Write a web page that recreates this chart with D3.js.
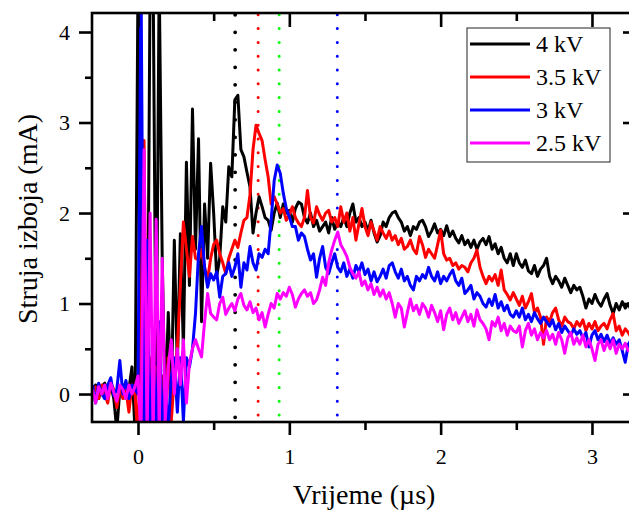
<!DOCTYPE html>
<html><head><meta charset="utf-8">
<script src="https://cdn.jsdelivr.net/npm/d3@7"></script>
<style>
body{margin:0;background:#fff}
svg{display:block}
text{font-family:"Liberation Serif","Times New Roman",serif;fill:#000}
</style>
</head><body>
<svg id="c" width="629" height="510"></svg>
<script>
// sampling grid of the traces (µs)
const tStart = -0.30, tStep = 0.02;

const seriesNames = ["4 kV", "3.5 kV", "3 kV", "2.5 kV"];
const seriesColors = ["#000000", "#ff0000", "#0000ff", "#ff00ff"];

// current (mA), one value per 0.02 µs starting at -0.30 µs
const current4kV = [
 0.0,0.1,-0.05,0.08,0.12,0.0,0.1,-0.05,-0.4,0.05,
 0.1,-0.05,0.05,0.3,-0.4,4.6,-0.5,0.8,-0.5,4.6,
 4.6,0.0,4.6,1.5,-0.2,0.9,-0.1,1.7,0.3,1.77,
 0.5,2.56,1.2,3.15,1.6,2.82,0.8,2.1,1.5,2.55,
 2.0,1.3,1.5,2.07,1.9,2.51,2.4,3.25,3.30,2.7,
 2.62,2.45,2.29,1.78,2.0,2.18,2.07,1.95,1.92,1.81,
 2.0,2.11,1.95,2.1,2.0,2.03,1.9,2.05,2.12,2.1,
 1.95,1.89,2.0,1.85,1.92,1.8,1.85,1.9,1.78,1.95,
 1.82,1.9,1.85,1.95,1.85,2.0,2.1,1.9,1.95,1.85,
 1.9,1.8,1.92,1.78,1.68,1.75,1.9,1.85,1.95,2.0,
 2.02,1.95,1.9,1.8,1.85,1.75,1.85,1.82,1.9,1.92,
 1.85,1.74,1.8,1.88,1.78,1.82,1.75,1.86,1.74,1.8,
 1.72,1.67,1.75,1.65,1.7,1.62,1.7,1.6,1.68,1.72,
 1.65,1.74,1.6,1.66,1.55,1.62,1.5,1.45,1.55,1.42,
 1.55,1.45,1.4,1.48,1.36,1.33,1.42,1.3,1.38,1.42,
 1.5,1.3,1.22,1.3,1.25,1.18,1.28,1.2,1.12,1.2,
 1.15,1.18,1.08,0.95,1.05,1.0,1.1,1.02,0.97,1.05,
 1.11,0.98,0.89,1.0,0.93,1.02,0.95,1.0,0.92,1.0
];
const current3_5kV = [
 0.0,0.08,-0.05,0.1,0.0,-0.1,0.12,0.05,-0.15,0.08,
 -0.05,0.05,-0.2,0.1,0.0,-0.5,1.0,2.8,-0.5,0.4,
 -0.4,0.3,-0.5,0.2,-0.2,0.4,-0.3,0.2,0.5,1.2,
 1.9,1.6,1.3,1.74,1.5,1.48,1.6,1.4,1.26,1.5,
 1.65,1.7,1.55,1.45,1.33,1.5,1.6,1.7,1.62,1.78,
 1.92,1.95,2.2,2.7,2.97,2.88,2.8,2.59,2.4,2.1,
 2.18,2.1,2.0,2.05,1.92,1.98,2.07,1.95,1.89,1.85,
 1.95,2.25,1.95,1.89,2.07,1.98,1.92,2.0,2.03,1.9,
 1.95,1.85,2.07,1.9,2.0,1.8,1.95,1.7,1.88,2.05,
 1.85,1.75,1.9,1.8,1.7,1.85,1.78,1.72,1.8,1.7,
 1.75,1.65,1.72,1.6,1.63,1.7,1.6,1.55,1.74,1.65,
 1.51,1.6,1.55,1.5,1.65,1.81,1.55,1.48,1.5,1.42,
 1.45,1.38,1.42,1.4,1.35,1.45,1.5,1.59,1.4,1.3,
 1.22,1.3,1.25,1.32,1.2,1.37,1.15,1.1,1.04,1.12,
 1.05,0.98,1.08,0.95,1.02,1.11,0.9,0.95,0.85,0.55,
 0.85,0.8,0.9,0.95,0.82,0.75,0.85,0.8,0.78,0.72,
 0.8,0.75,0.82,0.7,0.78,0.72,0.8,0.7,0.75,0.78,
 0.72,0.82,0.89,0.7,0.75,0.65,0.72,0.68,0.62,0.7
];
const current3kV = [
 0.1,-0.1,0.12,0.0,-0.05,0.1,0.18,-0.02,0.05,0.37,
 0.0,0.15,-0.05,0.1,0.05,0.0,4.6,-0.5,1.7,-0.5,
 0.5,-0.5,0.8,-0.3,0.1,-0.4,0.2,0.4,-0.2,0.4,
 -0.3,0.4,0.3,0.5,0.89,1.55,1.85,1.4,1.18,1.33,
 1.26,1.35,1.07,1.3,1.33,1.45,1.3,1.4,1.55,1.18,
 1.45,1.37,1.63,1.45,1.37,1.55,1.51,1.6,1.55,1.92,
 2.36,2.53,2.44,2.22,2.05,1.96,1.85,1.85,1.7,1.78,
 1.74,1.6,1.48,1.55,1.29,1.5,1.63,1.4,1.33,1.45,
 1.55,1.4,1.35,1.45,1.3,1.38,1.28,1.42,1.35,1.45,
 1.32,1.38,1.25,1.35,1.24,1.3,1.38,1.28,1.42,1.45,
 1.35,1.28,1.38,1.25,1.3,1.2,1.15,1.3,1.25,1.32,
 1.28,1.4,1.3,1.25,1.35,1.22,1.3,1.25,1.32,1.37,
 1.25,1.2,1.28,1.11,1.15,1.2,1.05,1.12,1.08,1.0,
 0.96,1.05,0.98,1.1,0.95,1.02,0.92,0.98,0.88,0.85,
 0.92,0.85,0.95,0.82,0.88,0.8,0.9,0.83,0.78,0.85,
 0.8,0.75,0.82,0.71,0.78,0.68,0.75,0.7,0.65,0.72,
 0.66,0.7,0.62,0.68,0.52,0.65,0.7,0.6,0.66,0.58,
 0.65,0.56,0.62,0.55,0.6,0.48,0.35,0.55,0.6,0.52
];
const current2_5kV = [
 0.05,-0.1,0.08,0.0,0.1,-0.05,0.12,0.02,-0.08,0.1,
 0.05,-0.05,0.1,0.0,0.08,0.2,-0.5,2.7,-0.5,2.0,
 -0.5,1.93,-0.4,1.5,-0.3,0.3,0.6,0.0,0.5,0.1,
 0.6,-0.1,0.34,0.5,0.6,0.5,0.41,0.8,1.11,0.89,
 0.85,0.82,1.0,1.07,0.88,0.95,1.0,0.92,1.05,1.11,
 0.98,0.93,1.02,0.9,0.95,0.82,0.9,0.74,0.88,1.0,
 0.95,1.11,1.05,1.12,1.08,1.18,1.1,0.96,1.05,1.11,
 1.15,1.08,1.12,1.0,1.04,1.15,1.29,1.2,1.45,1.59,
 1.7,1.79,1.65,1.59,1.52,1.4,1.33,1.28,1.35,1.2,
 1.25,1.15,1.22,1.1,1.18,1.08,1.15,1.05,1.12,1.0,
 0.85,1.0,0.95,0.74,0.9,1.05,0.92,0.98,0.88,1.0,
 0.95,0.85,0.98,0.9,0.8,0.92,0.71,0.88,0.95,0.82,
 0.9,0.78,0.85,0.92,0.8,0.88,0.75,0.93,0.82,0.78,
 0.72,0.6,0.8,0.75,0.85,0.7,0.78,0.65,0.75,0.7,
 0.68,0.75,0.52,0.7,0.78,0.65,0.72,0.6,0.68,0.62,
 0.7,0.6,0.66,0.55,0.68,0.6,0.45,0.62,0.68,0.55,
 0.62,0.55,0.65,0.52,0.6,0.5,0.37,0.55,0.6,0.48,
 0.58,0.5,0.6,0.45,0.55,0.5,0.56,0.48,0.52,0.45
];

// vertical dotted marker lines (µs)
const markerTimes = [0.642, 0.794, 0.933, 1.317];
const markerColors = ["#000000", "#ff0000", "#00ff00", "#0000ff"];

const xMajorTicks = [0, 1, 2, 3];
const xMinorTicks = [0.5, 1.5, 2.5];
const yMajorTicks = [0, 1, 2, 3, 4];
const yMinorTicks = [0.5, 1.5, 2.5, 3.5];
const xTitle = "Vrijeme (\u00b5s)";
const yTitle = "Struja izboja (mA)";

const svg = d3.select("#c");
const L = 92, R = 636, T = 13, B = 422;
const x = d3.scaleLinear().domain([-0.304, 3.291]).range([L, R]);
const y = d3.scaleLinear().domain([-0.309, 4.21]).range([B, T]);

svg.append("defs").append("clipPath").attr("id", "clip")
  .append("rect").attr("x", L).attr("y", T).attr("width", R - L).attr("height", B - T);

const plot = svg.append("g").attr("clip-path", "url(#clip)");

// dotted markers
markerTimes.forEach((t, i) => {
  const black = i === 0;
  plot.append("line")
    .attr("x1", x(t)).attr("x2", x(t)).attr("y1", y(4.19)).attr("y2", B)
    .attr("stroke", markerColors[i])
    .attr("stroke-width", black ? 3.8 : 3)
    .attr("stroke-linecap", "round")
    .attr("stroke-dasharray", black ? "0 17.5" : "0 13.8");
});

const allSeries = [current4kV, current3_5kV, current3kV, current2_5kV];
const line = d3.line().x((d, i) => x(tStart + i * tStep)).y(d => y(d));
allSeries.forEach((vals, k) => {
  plot.append("path").datum(vals)
    .attr("d", line)
    .attr("fill", "none")
    .attr("stroke", seriesColors[k])
    .attr("stroke-width", 3)
    .attr("stroke-linejoin", "round");
});

// axes
function styleAxis(g) {
  g.selectAll("path").remove();
  g.selectAll(".tick line").attr("stroke", "#000").attr("stroke-width", 2.6);
  g.selectAll(".tick text").style("font-size", "22px").style("font-family", '"Liberation Serif","Times New Roman",serif');
}
const fmt = d3.format("d");
svg.append("g").attr("transform", `translate(0,${B})`)
  .call(d3.axisBottom(x).tickValues(xMajorTicks).tickSize(13).tickPadding(13).tickFormat(fmt)).call(styleAxis);
svg.append("g").attr("transform", `translate(0,${B})`)
  .call(d3.axisBottom(x).tickValues(xMinorTicks).tickSize(8).tickFormat("")).call(styleAxis);
svg.append("g").attr("transform", `translate(0,${T})`)
  .call(d3.axisBottom(x).tickValues(xMajorTicks).tickSize(14).tickFormat("")).call(styleAxis);
svg.append("g").attr("transform", `translate(0,${T})`)
  .call(d3.axisBottom(x).tickValues(xMinorTicks).tickSize(8).tickFormat("")).call(styleAxis);
svg.append("g").attr("transform", `translate(${L},0)`)
  .call(d3.axisLeft(y).tickValues(yMajorTicks).tickSize(13).tickPadding(9).tickFormat(fmt)).call(styleAxis);
svg.append("g").attr("transform", `translate(${L},0)`)
  .call(d3.axisLeft(y).tickValues(yMinorTicks).tickSize(7).tickFormat("")).call(styleAxis);
svg.append("g").attr("transform", `translate(${R},0)`)
  .call(d3.axisLeft(y).tickValues(yMajorTicks).tickSize(13).tickFormat("")).call(styleAxis);
svg.append("g").attr("transform", `translate(${R},0)`)
  .call(d3.axisLeft(y).tickValues(yMinorTicks).tickSize(7).tickFormat("")).call(styleAxis);

// frame
svg.append("rect").attr("x", L).attr("y", T).attr("width", R - L).attr("height", B - T)
  .attr("fill", "none").attr("stroke", "#000").attr("stroke-width", 2.6);

// titles
svg.append("text").attr("x", 364).attr("y", 504).attr("text-anchor", "middle")
  .style("font-size", "28px").text(xTitle);
svg.append("text").attr("transform", "translate(37,219) rotate(-90)").attr("text-anchor", "middle")
  .style("font-size", "28px").text(yTitle);

// legend
const lg = svg.append("g");
lg.append("rect").attr("x", 467).attr("y", 28).attr("width", 143).attr("height", 134)
  .attr("fill", "#fff").attr("stroke", "#222").attr("stroke-width", 1);
const legendRows = [44, 77, 110, 143];
seriesNames.forEach((n, i) => {
  lg.append("line").attr("x1", 470).attr("x2", 530).attr("y1", legendRows[i]).attr("y2", legendRows[i])
    .attr("stroke", seriesColors[i]).attr("stroke-width", 3);
  lg.append("text").attr("x", 536).attr("y", legendRows[i] + 8).style("font-size", "24px").text(n);
});
</script>
</body></html>
